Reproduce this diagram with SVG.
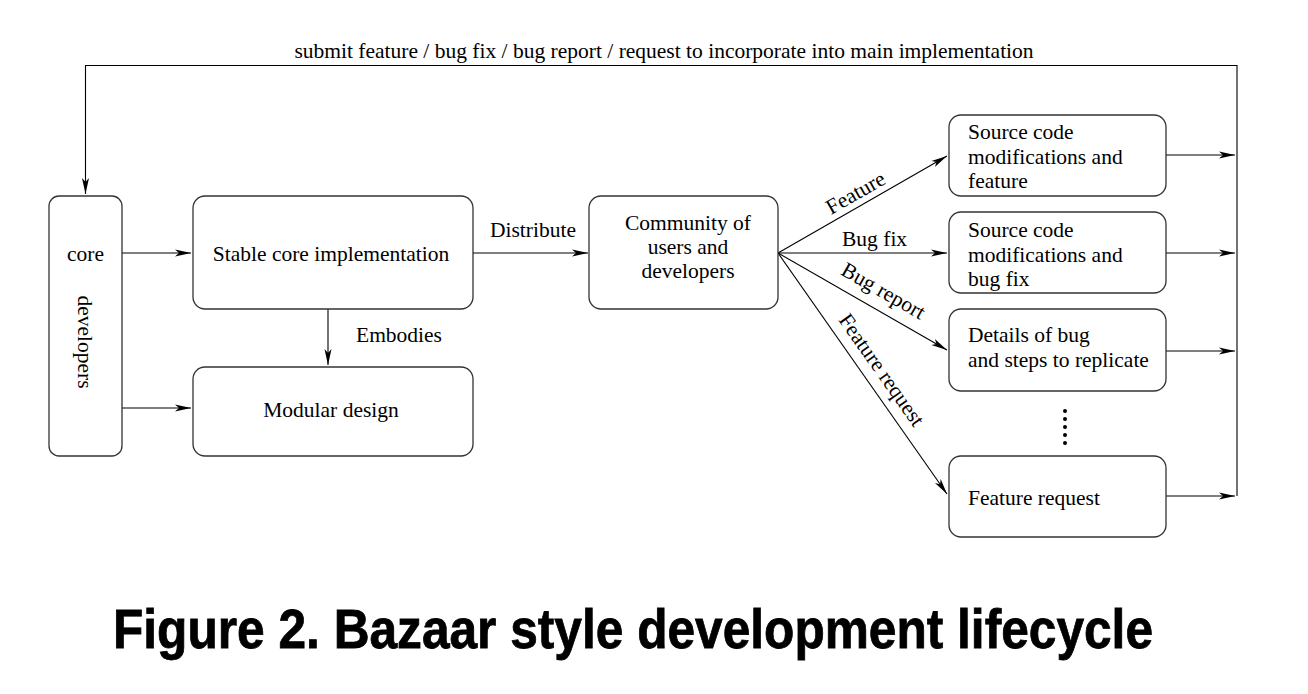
<svg xmlns="http://www.w3.org/2000/svg" width="1308" height="694" viewBox="0 0 1308 694">
<defs>
<marker id="ah" markerUnits="userSpaceOnUse" markerWidth="18" markerHeight="10" refX="16" refY="5" orient="auto">
<path d="M0,1.5 L16,5 L0,8.5 L4,5 z" fill="#000"/>
</marker>
<style>
.box{fill:#fff;stroke:#333;stroke-width:1.3}
.t{font-family:"Liberation Serif","Times New Roman",serif;font-size:21.5px;fill:#000}
.c{text-anchor:middle}
.arr{fill:none;stroke:#000;stroke-width:1.1;marker-end:url(#ah)}
</style>
</defs>
<rect width="1308" height="694" fill="#fff"/>
<g id="connectors">
<polyline class="arr" points="1237,496 1237,65.5 85.5,65.5 85.5,194"/>
<line class="arr" x1="122" y1="253" x2="191" y2="253"/>
<line class="arr" x1="122" y1="408" x2="191" y2="408"/>
<line class="arr" x1="328" y1="309" x2="328" y2="365"/>
<line class="arr" x1="473" y1="253" x2="588" y2="253"/>
<line class="arr" x1="778" y1="253" x2="947" y2="156"/>
<line class="arr" x1="778" y1="253" x2="947" y2="253"/>
<line class="arr" x1="778" y1="253" x2="947" y2="350"/>
<line class="arr" x1="778" y1="253" x2="947" y2="494"/>
<line class="arr" x1="1166" y1="155" x2="1235" y2="155"/>
<line class="arr" x1="1166" y1="253" x2="1235" y2="253"/>
<line class="arr" x1="1166" y1="351" x2="1235" y2="351"/>
<line class="arr" x1="1166" y1="496" x2="1235" y2="496"/>
<text class="t c" x="664" y="58">submit feature / bug fix / bug report / request to incorporate into main implementation</text>
<text class="t" x="356" y="342">Embodies</text>
<text class="t" x="490" y="237">Distribute</text>
<text class="t c" transform="translate(859,199) rotate(-29.7)">Feature</text>
<text class="t" x="842" y="246">Bug fix</text>
<text class="t c" transform="translate(880,297) rotate(29.7)">Bug report</text>
<text class="t c" transform="translate(876,374) rotate(54.8)">Feature request</text>
<g fill="#000">
<circle cx="1065" cy="411" r="2"/>
<circle cx="1065" cy="419" r="2"/>
<circle cx="1065" cy="427" r="2"/>
<circle cx="1065" cy="435" r="2"/>
<circle cx="1065" cy="443" r="2"/>
</g>
</g>
<g id="core-developers">
<rect class="box" x="49" y="196" width="73" height="260" rx="10"/>
<text class="t c" x="85.5" y="261">core</text>
<text class="t c" transform="translate(78,342) rotate(90)">developers</text>
</g>
<g id="stable-core">
<rect class="box" x="193" y="196" width="280" height="113" rx="12"/>
<text class="t c" x="331" y="261">Stable core implementation</text>
</g>
<g id="modular-design">
<rect class="box" x="193" y="367" width="280" height="89" rx="12"/>
<text class="t c" x="331" y="417">Modular design</text>
</g>
<g id="community">
<rect class="box" x="589" y="196" width="189" height="113" rx="12"/>
<text class="t c" x="688" y="230">Community of</text>
<text class="t c" x="688" y="254">users and</text>
<text class="t c" x="688" y="278">developers</text>
</g>
<g id="feature-box">
<rect class="box" x="949" y="115" width="217" height="81" rx="12"/>
<text class="t" x="968" y="139">Source code</text>
<text class="t" x="968" y="164">modifications and</text>
<text class="t" x="968" y="188">feature</text>
</g>
<g id="bugfix-box">
<rect class="box" x="949" y="212" width="217" height="81" rx="12"/>
<text class="t" x="968" y="237">Source code</text>
<text class="t" x="968" y="262">modifications and</text>
<text class="t" x="968" y="286">bug fix</text>
</g>
<g id="bugreport-box">
<rect class="box" x="949" y="309" width="217" height="82" rx="12"/>
<text class="t" x="968" y="342">Details of bug</text>
<text class="t" x="968" y="367">and steps to replicate</text>
</g>
<g id="featurerequest-box">
<rect class="box" x="949" y="456" width="217" height="81" rx="12"/>
<text class="t" x="968" y="505">Feature request</text>
</g>
<text x="633" y="648" text-anchor="middle" font-family="Liberation Sans, Arial, sans-serif" font-weight="bold" font-size="56" textLength="1040" lengthAdjust="spacingAndGlyphs" fill="#000" stroke="#000" stroke-width="0.8">Figure 2. Bazaar style development lifecycle</text>
</svg>
